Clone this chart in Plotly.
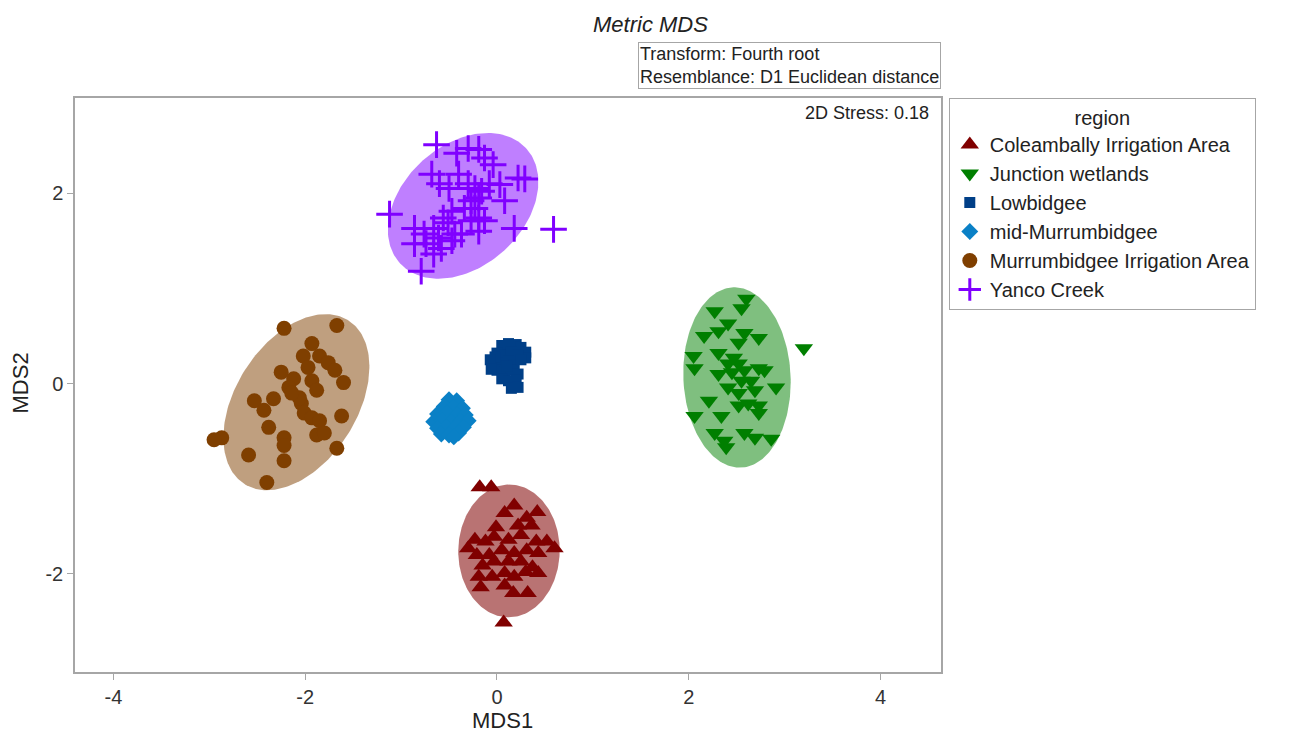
import numpy as np
import plotly.graph_objects as go

regions = ["Coleambally Irrigation Area", "Junction wetlands", "Lowbidgee",
           "mid-Murrumbidgee", "Murrumbidgee Irrigation Area", "Yanco Creek"]

coleambally_x = [-0.18, -0.06, 0.18, 0.08, 0.42, 0.31, -0.01, 0.22, 0.36, -0.23, -0.30, -0.12, -0.03, 0.12,
                 0.25, 0.41, 0.52, 0.60, -0.21, -0.08, 0.05, 0.18, 0.31, 0.43, -0.15, -0.03, 0.12, 0.25, 0.37,
                 -0.19, -0.05, 0.08, 0.18, 0.30, 0.43, -0.17, 0.08, 0.17, 0.32, 0.07]
coleambally_y = [-1.09, -1.09, -1.28, -1.36, -1.35, -1.41, -1.51, -1.49, -1.49, -1.64, -1.73, -1.66, -1.61, -1.64,
                 -1.59, -1.66, -1.66, -1.73, -1.80, -1.80, -1.75, -1.78, -1.75, -1.78, -1.91, -1.87, -1.87, -1.87, -1.93,
                 -2.03, -2.03, -1.99, -2.03, -1.98, -1.99, -2.14, -2.12, -2.20, -2.20, -2.51]

junction_x = [2.60, 2.55, 2.27, 2.41, 2.31, 2.16, 2.58, 2.73, 2.52, 2.05, 2.31, 2.47, 2.06, 2.31, 2.45, 2.58,
              2.73, 2.79, 2.55, 2.65, 2.91, 2.41, 2.52, 2.69, 2.21, 2.62, 2.73, 2.52, 2.06, 2.34, 2.73, 2.27,
              2.37, 2.58, 2.69, 2.86, 2.39, 3.20, 2.52, 2.41]
junction_y = [0.89, 0.79, 0.76, 0.63, 0.55, 0.50, 0.53, 0.48, 0.43, 0.29, 0.32, 0.27, 0.16, 0.10, 0.12, 0.14,
              0.16, 0.14, 0.03, 0.03, -0.04, -0.04, -0.10, -0.07, -0.18, -0.21, -0.23, -0.23, -0.34, -0.34, -0.31, -0.52,
              -0.60, -0.52, -0.57, -0.58, -0.67, 0.37, 0.21, 0.21]

lowbidgee_x = [0.05, 0.12, 0.20, 0.25, 0.30, 0.30, 0.00, 0.08, 0.15, 0.22, -0.03, 0.05, 0.12, 0.18, 0.25,
               0.00, 0.08, 0.15, 0.22, 0.05, 0.12, 0.20, 0.15, 0.22, 0.10, -0.02, -0.07, -0.06]
lowbidgee_y = [0.40, 0.42, 0.41, 0.38, 0.33, 0.27, 0.32, 0.30, 0.33, 0.30, 0.22, 0.22, 0.24, 0.20, 0.25,
               0.14, 0.12, 0.14, 0.10, 0.05, 0.03, 0.04, -0.05, -0.04, 0.18, 0.28, 0.25, 0.15]

midmurr_x = [-0.50, -0.42, -0.55, -0.45, -0.36, -0.62, -0.52, -0.42, -0.33, -0.66, -0.57, -0.48, -0.38, -0.30,
             -0.62, -0.53, -0.44, -0.35, -0.58, -0.50, -0.40, -0.45]
midmurr_y = [-0.17, -0.18, -0.24, -0.25, -0.26, -0.32, -0.31, -0.33, -0.33, -0.40, -0.39, -0.40, -0.40, -0.39,
             -0.47, -0.46, -0.47, -0.46, -0.53, -0.54, -0.52, -0.56]

mia_x = [-2.22, -1.67, -1.93, -2.02, -1.85, -1.76, -1.69, -1.60, -2.25, -2.12, -2.17, -1.93, -1.88, -2.53, -2.33,
         -2.43, -2.04, -2.01, -1.93, -1.85, -1.62, -2.38, -2.22, -2.22, -2.22, -1.88, -1.80, -1.67, -2.87, -2.59,
         -2.40, -2.06, -1.97, -2.14, -2.95]
mia_y = [0.58, 0.61, 0.42, 0.29, 0.29, 0.22, 0.14, 0.01, 0.12, 0.05, -0.04, 0.03, -0.07, -0.18, -0.16,
         -0.28, -0.21, -0.31, -0.36, -0.39, -0.34, -0.46, -0.57, -0.65, -0.81, -0.54, -0.52, -0.68, -0.57, -0.75,
         -1.04, -0.15, 0.17, -0.10, -0.59]

yanco_x = [-0.63, -0.42, -0.30, -0.19, -0.13, -0.04, -0.68, -0.60, -0.50, -0.40, -0.30, -0.23, -0.16, -0.08,
           0.03, 0.22, 0.29, 0.08, -0.27, -0.23, -0.19, -0.34, -0.47, -0.56, -0.51, -1.12, -0.86, -0.76, -0.86,
           -0.66, -0.61, -0.44, -0.37, -0.19, -0.13, 0.18, 0.59, -0.66, -0.79, -0.58, -0.74, -0.47, -0.27, -0.19]
yanco_y = [2.51, 2.42, 2.47, 2.46, 2.37, 2.30, 2.20, 2.10, 2.05, 2.20, 2.10, 2.05, 2.02, 2.10,
           2.09, 2.16, 2.15, 1.92, 1.92, 1.84, 1.74, 1.84, 1.81, 1.74, 1.69, 1.78, 1.63, 1.57, 1.47,
           1.63, 1.53, 1.57, 1.57, 1.60, 1.71, 1.63, 1.62, 1.36, 1.18, 1.42, 1.47, 1.50, 1.71, 1.95]

x_ticks = [-4, -2, 0, 2, 4]
x_tick_labels = ["-4", "-2", "0", "2", "4"]
y_ticks = [-2, 0, 2]
y_tick_labels = ["-2", "0", "2"]

xs = [coleambally_x, junction_x, lowbidgee_x, midmurr_x, mia_x, yanco_x]
ys = [coleambally_y, junction_y, lowbidgee_y, midmurr_y, mia_y, yanco_y]

colors = ["#800000", "#007f00", "#003f87", "#0a80c6", "#7f3f00", "#8000ff"]
fills = ["rgba(128,0,0,0.55)", "rgba(0,127,0,0.5)", "rgba(0,63,135,0.5)", "rgba(10,128,198,0.5)",
         "rgba(127,63,0,0.5)", "rgba(128,0,255,0.5)"]
symbols = ["triangle-up", "triangle-down", "square", "diamond", "circle", "cross-thin"]
sizes = [16, 16, 11, 13, 15, 19]
show_ellipse = [True, True, False, False, True, True]

fig = go.Figure()

t = np.linspace(0, 2 * np.pi, 200)
k = 2.3
for i in range(len(regions)):
    if not show_ellipse[i]:
        continue
    x = np.array(xs[i]); y = np.array(ys[i])
    cov = np.cov(x, y)
    vals, vecs = np.linalg.eigh(cov)
    circ = np.vstack([np.cos(t), np.sin(t)]) * (k * np.sqrt(vals))[:, None]
    pts = vecs @ circ
    fig.add_trace(go.Scatter(x=pts[0] + x.mean(), y=pts[1] + y.mean(), mode="lines", fill="toself",
                             fillcolor=fills[i], line=dict(width=0), hoverinfo="skip", showlegend=False))

for i, name in enumerate(regions):
    mk = dict(symbol=symbols[i], size=sizes[i], color=colors[i])
    if symbols[i] == "cross-thin":
        mk["line"] = dict(color=colors[i], width=3)
    else:
        mk["line"] = dict(width=0)
    fig.add_trace(go.Scatter(x=xs[i], y=ys[i], mode="markers", name=name, marker=mk))

axis_common = dict(showgrid=False, zeroline=False, showline=True, linecolor="#a6a6a6", linewidth=1.5,
                   mirror=True, ticks="outside", ticklen=6, tickcolor="#a6a6a6", automargin=False,
                   tickfont=dict(size=20, color="#333333"))

fig.update_layout(
    width=1285, height=726,
    margin=dict(l=67, r=352, t=90, b=62),
    paper_bgcolor="white", plot_bgcolor="white",
    font=dict(family="Liberation Sans, Arial, sans-serif", color="#222222"),
    xaxis=dict(range=[-4.4, 4.63], tickvals=x_ticks, ticktext=x_tick_labels, **axis_common),
    yaxis=dict(range=[-3.03, 3.0], tickvals=y_ticks, ticktext=y_tick_labels, **axis_common),
    legend=dict(x=1.009, y=1.0, xanchor="left", yanchor="top", bordercolor="#a6a6a6", borderwidth=1,
                bgcolor="white", font=dict(size=20, color="#222222"), tracegroupgap=0,
                title=dict(text="region", side="top center", font=dict(size=20))),
    annotations=[
        dict(text="<i>Metric MDS</i>", x=0.664, y=1.0 + (97 - 23) / 575, xref="paper", yref="paper",
             showarrow=False, font=dict(size=22, color="#222222"), xanchor="center", yanchor="middle"),
        dict(text="Transform: Fourth root<br>Resemblance: D1 Euclidean distance", x=1.0, y=1.0 + (97 - 88) / 575,
             xref="paper", yref="paper", showarrow=False, align="left", xanchor="right", yanchor="bottom",
             bordercolor="#a6a6a6", borderwidth=1, borderpad=1, bgcolor="white",
             font=dict(size=18, color="#222222")),
        dict(text="2D Stress: 0.18", x=0.988, y=0.974, xref="paper", yref="paper", showarrow=False,
             xanchor="right", yanchor="middle", font=dict(size=18, color="#222222")),
        dict(text="MDS1", x=0.494, y=-(721 - 672) / 575, xref="paper", yref="paper", showarrow=False,
             xanchor="center", yanchor="middle", font=dict(size=22, color="#222222")),
        dict(text="MDS2", x=(20 - 74) / 866, y=(672 - 383) / 575, xref="paper", yref="paper", showarrow=False,
             textangle=-90, xanchor="center", yanchor="middle", font=dict(size=22, color="#222222")),
    ],
)

fig.write_html("out.html")
